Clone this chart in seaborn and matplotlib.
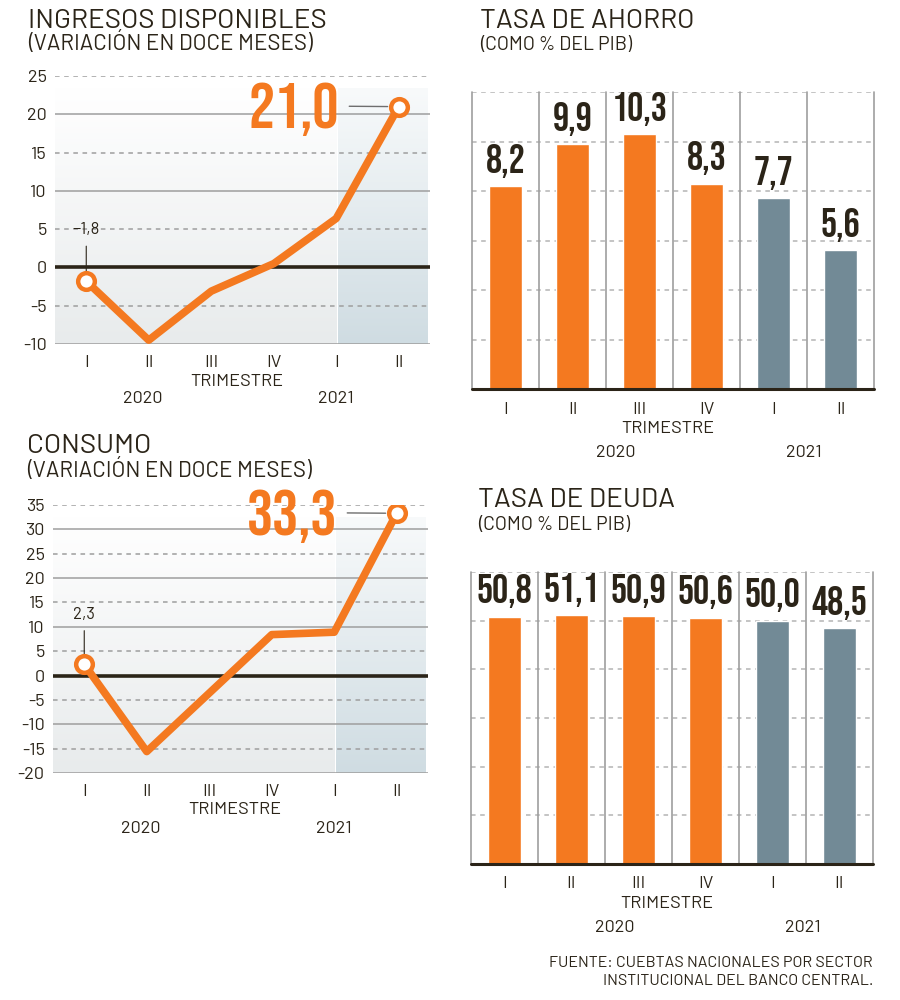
import matplotlib
matplotlib.use("Agg")
import matplotlib.pyplot as plt
import numpy as np
import pandas as pd
import seaborn as sns
from matplotlib.colors import LinearSegmentedColormap

# datos
trimestres = ["I", "II", "III", "IV", "I", "II"]
anios = ["2020", "2020", "2020", "2020", "2021", "2021"]
ingresos = [-1.8, -9.5, -3.1, 0.5, 6.4, 21.0]
consumo = [2.3, -15.6, -3.6, 8.4, 8.9, 33.3]
ahorro = [8.2, 9.9, 10.3, 8.3, 7.7, 5.6]
deuda = [50.8, 51.1, 50.9, 50.6, 50.0, 48.5]

NARANJA = "#f47920"
PIZARRA = "#728a96"
TINTA = "#2b2418"
GRIS = "#9e9e9e"

F_TXT = ["Barlow", "Roboto", "DejaVu Sans"]
F_NUM = ["Bebas Neue", "Roboto Condensed", "DejaVu Sans"]

sns.set_theme(style="white")
plt.rcParams["font.family"] = F_TXT
plt.rcParams["text.color"] = TINTA
plt.rcParams["xtick.color"] = TINTA
plt.rcParams["ytick.color"] = TINTA


def fmt(v):
    s = f"{abs(v):.1f}".replace(".", ",")
    return ("\u2212" + s) if v < 0 else s


def pie_eje(ax, x_2020, x_2021, dy):
    # TRIMESTRE y los anios bajo las etiquetas de trimestre
    xy = ("data", "axes fraction")
    ax.annotate("TRIMESTRE", xy=(2.5, 0), xycoords=xy, xytext=(-4, -dy[0]),
                textcoords="offset points", ha="center", va="center", fontsize=13)
    ax.annotate("2020", xy=(x_2020, 0), xycoords=xy, xytext=(0, -dy[1]),
                textcoords="offset points", ha="center", va="center", fontsize=13)
    ax.annotate("2021", xy=(x_2021, 0), xycoords=xy, xytext=(0, -dy[1]),
                textcoords="offset points", ha="center", va="center", fontsize=13)


def linea(ax, valores, ymin, ymax, off_peq):
    n = len(valores)
    x = np.arange(n)
    v = np.array(valores)
    corte = anios.index("2021")
    top = ymax - 0.045 * (ymax - ymin)
    grad = np.linspace(0, 1, 256).reshape(-1, 1)
    cm_a = LinearSegmentedColormap.from_list("a", ["#ffffff", "#e8ebec"])
    cm_b = LinearSegmentedColormap.from_list("b", ["#f8fafb", "#cfdce2"])
    ax.imshow(grad, cmap=cm_a, aspect="auto", extent=(-0.5, corte, ymin, top), zorder=0)
    ax.imshow(grad, cmap=cm_b, aspect="auto", extent=(corte + 0.03, n - 0.53, ymin, top), zorder=0)

    for t in range(ymin, ymax + 1, 5):
        if t == 0:
            ax.axhline(t, color=TINTA, lw=2.6, zorder=2)
        elif t % 10 == 0:
            ax.axhline(t, color=GRIS, lw=1.1, zorder=1)
        else:
            ax.axhline(t, color=GRIS, lw=1.1, ls=(0, (3, 3)), zorder=1)

    sns.lineplot(x=x, y=v, ax=ax, color=NARANJA, linewidth=5.5, zorder=3)
    ax.plot(x[[0, -1]], v[[0, -1]], "o", ms=12, mfc="white", mec=NARANJA, mew=3.2, zorder=4)

    ax.annotate(fmt(v[0]), xy=(x[0], v[0]), xytext=(0, off_peq), textcoords="offset points",
                ha="center", va="center", fontsize=12,
                arrowprops=dict(arrowstyle="-", color=TINTA, lw=0.8, shrinkA=4, shrinkB=0))
    ax.annotate(fmt(v[-1]), xy=(x[-1], v[-1]), xytext=(-43, -2), textcoords="offset points",
                ha="right", va="center", fontsize=47, color=NARANJA, family=F_NUM,
                arrowprops=dict(arrowstyle="-", color="#6e6e6e", lw=1, shrinkA=5, shrinkB=8,
                                relpos=(1, 0.56)))

    ax.set_xlim(-0.5, n - 0.5)
    ax.set_ylim(ymin, ymax)
    ax.set_yticks(range(ymin, ymax + 1, 5))
    ax.set_yticklabels([str(t) for t in range(ymin, ymax + 1, 5)])
    ax.set_xticks(x, trimestres)
    ax.set_xlabel("")
    ax.set_ylabel("")
    ax.tick_params(axis="y", length=0, labelsize=13, pad=6)
    ax.tick_params(axis="x", length=0, labelsize=13, pad=8)
    sns.despine(ax=ax, left=True, bottom=True)


def barras(ax, valores, ymax, paso):
    n = len(valores)
    df = pd.DataFrame({
        "periodo": [f"{a}-{t}" for a, t in zip(anios, trimestres)],
        "valor": valores,
        "anio": anios,
    })
    sns.barplot(data=df, x="periodo", y="valor", hue="anio",
                palette={"2020": NARANJA, "2021": PIZARRA}, width=0.5, dodge=False,
                saturation=1, legend=False, ax=ax, zorder=3)
    for cont in ax.containers:
        etiquetas = ["" if np.isnan(h) else fmt(h) for h in cont.datavalues]
        ax.bar_label(cont, labels=etiquetas, padding=6, fontsize=29, family=F_NUM,
                     color=TINTA)

    for t in range(paso, ymax + 1, paso):
        ax.axhline(t, color="#b4b4b4", lw=1.1, ls=(0, (3, 3)), zorder=1)
    for b in np.arange(-0.5, n, 1.0):
        ax.axvline(b, color=GRIS, lw=1.2, zorder=1, clip_on=False)
    ax.axhline(0, color=TINTA, lw=2.2, zorder=4, clip_on=False)

    ax.set_xlim(-0.5, n - 0.5)
    ax.set_ylim(0, ymax)
    ax.set_yticks([])
    ax.set_xticks(range(n), trimestres)
    ax.set_xlabel("")
    ax.set_ylabel("")
    ax.tick_params(axis="x", length=0, labelsize=13, pad=9)
    sns.despine(ax=ax, left=True, bottom=True)


fig = plt.figure(figsize=(9, 10), dpi=100)
fig.patch.set_facecolor("white")

ax1 = fig.add_axes([55 / 900, 0.656, 375 / 900, 0.268])
linea(ax1, ingresos, -10, 25, 37)
pie_eje(ax1, 0.9, 4.0, (27, 39))

ax3 = fig.add_axes([53 / 900, 0.227, 375 / 900, 0.268])
linea(ax3, consumo, -20, 35, 36)
pie_eje(ax3, 0.9, 4.0, (26, 40))

ax2 = fig.add_axes([472 / 900, 0.611, 402 / 900, 0.297])
barras(ax2, ahorro, 12, 2)
pie_eje(ax2, 1.65, 4.45, (28.5, 46))

ax4 = fig.add_axes([471 / 900, 0.136, 402 / 900, 0.292])
barras(ax4, deuda, 60, 10)
pie_eje(ax4, 1.65, 4.45, (28.5, 46))

titulos = [
    (28, 28, 50, "INGRESOS DISPONIBLES", "(VARIACIÓN EN DOCE MESES)", 16),
    (480, 28, 50, "TASA DE AHORRO", "(COMO % DEL PIB)", 14),
    (27, 453, 477, "CONSUMO", "(VARIACIÓN EN DOCE MESES)", 16),
    (478, 507, 530, "TASA DE DEUDA", "(COMO % DEL PIB)", 14),
]
for x, yt, ys, tit, sub, fs in titulos:
    fig.text(x / 900, 1 - yt / 1000, tit, ha="left", va="baseline", fontsize=20)
    fig.text(x / 900, 1 - ys / 1000, sub, ha="left", va="baseline", fontsize=fs)

fig.text(873 / 900, 1 - 967 / 1000, "FUENTE: CUEBTAS NACIONALES POR SECTOR", ha="right",
         va="baseline", fontsize=11.5)
fig.text(873 / 900, 1 - 985 / 1000, "INSTITUCIONAL DEL BANCO CENTRAL.", ha="right",
         va="baseline", fontsize=11.5)

fig.savefig("out.png", dpi=100, facecolor="white")
